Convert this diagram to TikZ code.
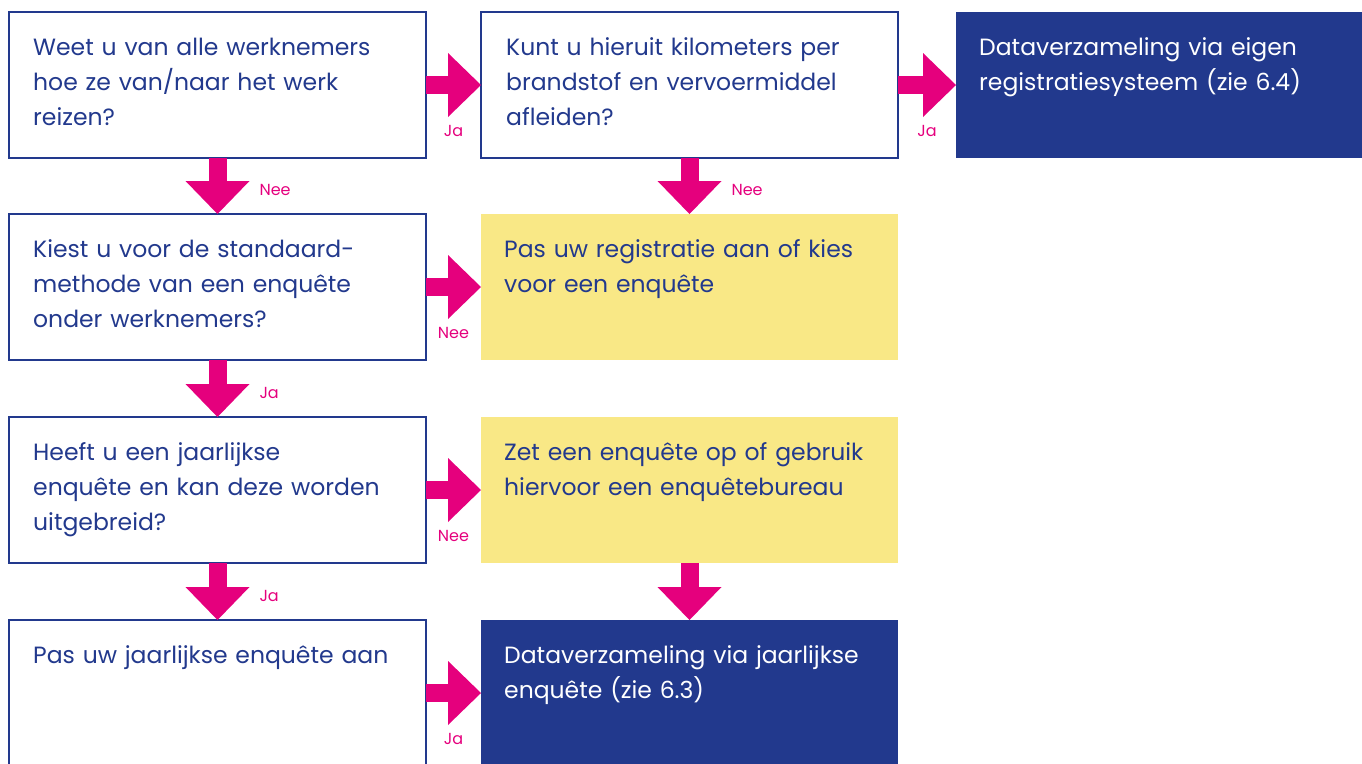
\documentclass[tikz,border=0pt]{standalone}
\usepackage{fontspec}
\setmainfont{Poppins}
\usetikzlibrary{positioning}
\usetikzlibrary{calc}
\usetikzlibrary{arrows.meta}
\definecolor{kblue}{HTML}{22398D}
\definecolor{kpink}{HTML}{E5007D}
\definecolor{kyellow}{HTML}{F9E886}
\tikzset{
  box/.style={minimum width=417pt, minimum height=146pt, inner sep=0pt, outer sep=0pt},
  question/.style={box, draw=kblue, line width=2.2pt, fill=white},
  advice/.style={box, fill=kyellow},
  result/.style={box, fill=kblue},
  boxtext/.style={anchor=base west, inner sep=0pt, text width=390pt, align=left,
    font=\fontsize{23.5}{35}\selectfont, text=kblue},
  resulttext/.style={boxtext, text=white},
  flow/.style={draw=kpink, line width=18pt,
    -{Triangle[length=33pt, width=64pt, line width=0pt]}},
  answer/.style={text=kpink, font=\fontsize{16}{18}\selectfont, inner sep=0pt, outer sep=0pt},
}

\begin{document}
\begin{tikzpicture}

  \useasboundingbox (0,0) rectangle (1362pt,-763pt);

  % Define nodes
  \node[question, anchor=north west] (weet) at (9pt,-12pt) {};
  \node[question, right=55pt of weet] (kunt) {};
  \node[result, minimum width=406pt, right=58pt of kunt] (eigen) {};

  \node[question, below=56pt of weet] (kiest) {};
  \node[advice, right=55pt of kiest] (aanpas) {};

  \node[question, below=57pt of kiest] (heeft) {};
  \node[advice, right=55pt of heeft] (zetop) {};

  \node[question, below=57pt of heeft] (uitbreid) {};
  \node[result, right=55pt of uitbreid] (jaarlijks) {};

  % Texts
  \node[boxtext] (weet-t) at ($(weet.north west)+(24pt,-43pt)$)
    {Weet u van alle werknemers\\hoe ze van/naar het werk\\reizen?};
  \node[boxtext] (kunt-t) at ($(kunt.north west)+(25pt,-43pt)$)
    {Kunt u hieruit kilometers per\\brandstof en vervoermiddel\\afleiden?};
  \node[resulttext] (eigen-t) at ($(eigen.north west)+(23pt,-43pt)$)
    {Dataverzameling via eigen\\registratiesysteem (zie 6.4)};
  \node[boxtext] (kiest-t) at ($(kiest.north west)+(24pt,-43pt)$)
    {Kiest u voor de standaard-\\methode van een enquête\\onder werknemers?};
  \node[boxtext] (aanpas-t) at ($(aanpas.north west)+(23pt,-43pt)$)
    {Pas uw registratie aan of kies\\voor een enquête};
  \node[boxtext] (heeft-t) at ($(heeft.north west)+(24pt,-43pt)$)
    {Heeft u een jaarlijkse\\enquête en kan deze worden\\uitgebreid?};
  \node[boxtext] (zetop-t) at ($(zetop.north west)+(23pt,-43pt)$)
    {Zet een enquête op of gebruik\\hiervoor een enquêtebureau};
  \node[boxtext] (uitbreid-t) at ($(uitbreid.north west)+(24pt,-43pt)$)
    {Pas uw jaarlijkse enquête aan};
  \node[resulttext] (jaarlijks-t) at ($(jaarlijks.north west)+(23pt,-43pt)$)
    {Dataverzameling via jaarlijkse\\enquête (zie 6.3)};

  % Connect nodes
  \draw[flow] (weet) -- node[answer, yshift=-46pt] (ja1) {Ja} (kunt);
  \draw[flow] (kunt) -- node[answer, yshift=-46pt] (ja2) {Ja} (eigen);
  \draw[flow] (weet) -- node[answer, anchor=west, xshift=42pt, yshift=-4pt] (nee1) {Nee} (kiest);
  \draw[flow] (kunt) -- node[answer, anchor=west, xshift=42pt, yshift=-4pt] (nee2) {Nee} (aanpas);

  \draw[flow] (kiest) -- node[answer, yshift=-46pt] (nee3) {Nee} (aanpas);
  \draw[flow] (kiest) -- node[answer, anchor=west, xshift=42pt, yshift=-4pt] (ja3) {Ja} (heeft);

  \draw[flow] (heeft) -- node[answer, yshift=-46pt] (nee4) {Nee} (zetop);
  \draw[flow] (heeft) -- node[answer, anchor=west, xshift=42pt, yshift=-4pt] (ja4) {Ja} (uitbreid);
  \draw[flow] (zetop) -- (jaarlijks);

  \draw[flow] (uitbreid) -- node[answer, yshift=-46pt] (ja5) {Ja} (jaarlijks);

\end{tikzpicture}
\end{document}
